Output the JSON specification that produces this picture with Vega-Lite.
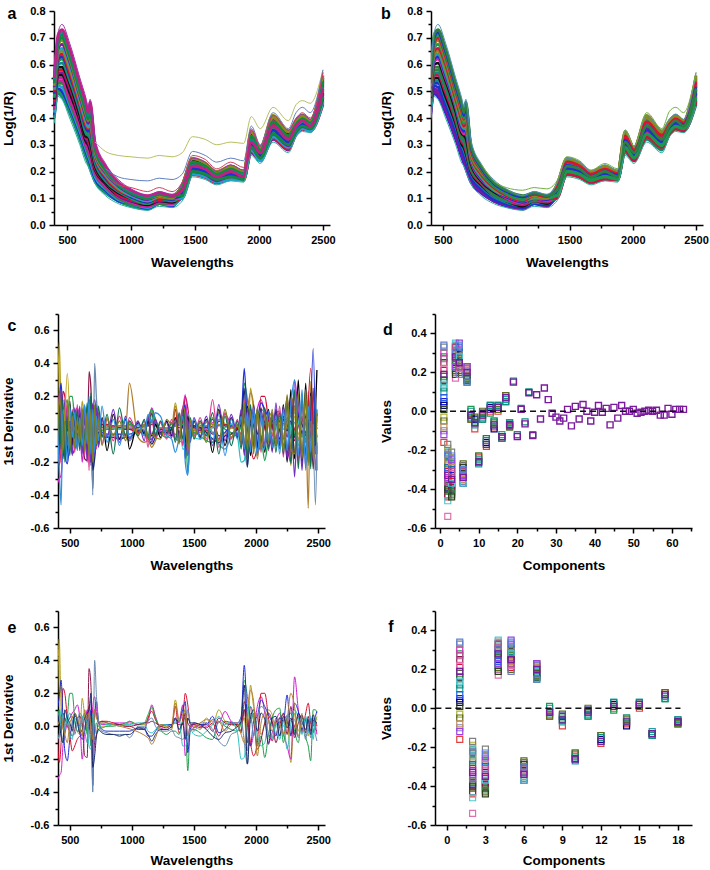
{"$schema":"https://vega.github.io/schema/vega-lite/v6.json","padding":{"left":0,"top":5,"right":1,"bottom":1},"spacing":38,"background":"white","resolve":{"scale":{"color":"independent"}},
"config":{"view":{"stroke":null},"axis":{"grid":false,"labelFont":"Liberation Sans","titleFont":"Liberation Sans","labelFontWeight":"bold","titleFontWeight":"bold","labelFontSize":11,"titleFontSize":13.5,"labelColor":"black","titleColor":"black","domainColor":"black","tickColor":"black","domainWidth":1.5,"tickWidth":1.5,"tickSize":5,"labelPadding":4,"labelFlush":false,"labelOverlap":false}},
"datasets":{
"refl":[
{"w":400,"a":0.40,"b":0.41,"c":0.43,"d":0.44,"e":0.45,"f":0.47,"g":0.48,"h":0.50,"i":0.51,"j":0.52,"k":0.54,"l":0.55,"m":0.56,"n":0.38,"A":0.405,"B":0.42,"C":0.435,"D":0.445,"E":0.46,"F":0.475,"G":0.49,"H":0.505,"I":0.515,"J":0.53,"K":0.545},
{"w":430,"a":0.49,"b":0.51,"c":0.53,"d":0.55,"e":0.57,"f":0.59,"g":0.61,"h":0.63,"i":0.65,"j":0.67,"k":0.69,"l":0.71,"m":0.72,"n":0.48,"A":0.50,"B":0.52,"C":0.54,"D":0.56,"E":0.58,"F":0.60,"G":0.62,"H":0.64,"I":0.66,"J":0.68,"K":0.70},
{"w":460,"a":0.48,"b":0.50,"c":0.53,"d":0.55,"e":0.57,"f":0.59,"g":0.62,"h":0.64,"i":0.66,"j":0.69,"k":0.71,"l":0.73,"m":0.75,"n":0.47,"A":0.49,"B":0.515,"C":0.54,"D":0.56,"E":0.58,"F":0.605,"G":0.63,"H":0.65,"I":0.675,"J":0.70,"K":0.72},
{"w":520,"a":0.42,"b":0.44,"c":0.46,"d":0.48,"e":0.51,"f":0.53,"g":0.55,"h":0.57,"i":0.60,"j":0.62,"k":0.64,"l":0.66,"m":0.68,"n":0.40,"A":0.43,"B":0.45,"C":0.47,"D":0.495,"E":0.52,"F":0.54,"G":0.56,"H":0.585,"I":0.61,"J":0.63,"K":0.65},
{"w":600,"a":0.32,"b":0.34,"c":0.36,"d":0.38,"e":0.40,"f":0.41,"g":0.44,"h":0.45,"i":0.47,"j":0.49,"k":0.51,"l":0.53,"m":0.55,"n":0.30,"A":0.33,"B":0.35,"C":0.37,"D":0.39,"E":0.405,"F":0.425,"G":0.445,"H":0.46,"I":0.48,"J":0.50,"K":0.52},
{"w":650,"a":0.25,"b":0.27,"c":0.29,"d":0.30,"e":0.32,"f":0.33,"g":0.35,"h":0.37,"i":0.39,"j":0.41,"k":0.43,"l":0.45,"m":0.47,"n":0.23,"A":0.26,"B":0.28,"C":0.295,"D":0.31,"E":0.325,"F":0.34,"G":0.36,"H":0.38,"I":0.40,"J":0.42,"K":0.44},
{"w":665,"a":0.23,"b":0.25,"c":0.27,"d":0.29,"e":0.31,"f":0.33,"g":0.34,"h":0.36,"i":0.37,"j":0.39,"k":0.40,"l":0.42,"m":0.44,"n":0.22,"A":0.24,"B":0.26,"C":0.28,"D":0.30,"E":0.32,"F":0.335,"G":0.35,"H":0.365,"I":0.38,"J":0.395,"K":0.41},
{"w":680,"a":0.21,"b":0.23,"c":0.25,"d":0.27,"e":0.29,"f":0.31,"g":0.34,"h":0.36,"i":0.39,"j":0.41,"k":0.44,"l":0.46,"m":0.47,"n":0.20,"A":0.22,"B":0.24,"C":0.26,"D":0.28,"E":0.30,"F":0.325,"G":0.35,"H":0.375,"I":0.40,"J":0.425,"K":0.45},
{"w":720,"a":0.16,"b":0.17,"c":0.19,"d":0.20,"e":0.21,"f":0.22,"g":0.24,"h":0.25,"i":0.26,"j":0.27,"k":0.29,"l":0.30,"m":0.32,"n":0.155,"o":0.31,"A":0.165,"B":0.18,"C":0.195,"D":0.205,"E":0.215,"F":0.23,"G":0.245,"H":0.255,"I":0.265,"J":0.28,"K":0.295},
{"w":800,"a":0.12,"b":0.13,"c":0.14,"d":0.15,"e":0.16,"f":0.16,"g":0.17,"h":0.18,"i":0.19,"j":0.20,"k":0.21,"l":0.22,"m":0.23,"n":0.11,"o":0.275,"p":0.21,"q":0.19,"r":0.23,"A":0.125,"B":0.135,"C":0.145,"D":0.155,"E":0.16,"F":0.165,"G":0.175,"H":0.185,"I":0.195,"J":0.205,"K":0.215},
{"w":900,"a":0.09,"b":0.09,"c":0.10,"d":0.11,"e":0.11,"f":0.12,"g":0.13,"h":0.13,"i":0.14,"j":0.15,"k":0.15,"l":0.16,"m":0.17,"n":0.08,"o":0.26,"p":0.18,"q":0.15,"r":0.165,"A":0.09,"B":0.095,"C":0.105,"D":0.11,"E":0.115,"F":0.125,"G":0.13,"H":0.135,"I":0.145,"J":0.15,"K":0.155},
{"w":1000,"a":0.07,"b":0.08,"c":0.08,"d":0.09,"e":0.09,"f":0.10,"g":0.10,"h":0.11,"i":0.11,"j":0.12,"k":0.12,"l":0.13,"m":0.135,"n":0.065,"o":0.255,"p":0.17,"q":0.14,"r":0.14,"A":0.075,"B":0.08,"C":0.085,"D":0.09,"E":0.095,"F":0.10,"G":0.105,"H":0.11,"I":0.115,"J":0.12,"K":0.125},
{"w":1130,"a":0.06,"b":0.06,"c":0.07,"d":0.07,"e":0.08,"f":0.08,"g":0.08,"h":0.09,"i":0.09,"j":0.10,"k":0.10,"l":0.11,"m":0.11,"n":0.055,"o":0.25,"p":0.165,"q":0.125,"r":0.13,"A":0.06,"B":0.065,"C":0.07,"D":0.075,"E":0.08,"F":0.08,"G":0.085,"H":0.09,"I":0.095,"J":0.10,"K":0.105},
{"w":1220,"a":0.08,"b":0.08,"c":0.08,"d":0.09,"e":0.09,"f":0.10,"g":0.10,"h":0.10,"i":0.11,"j":0.11,"k":0.12,"l":0.12,"m":0.125,"n":0.07,"o":0.26,"p":0.175,"q":0.14,"r":0.14,"A":0.08,"B":0.08,"C":0.085,"D":0.09,"E":0.095,"F":0.10,"G":0.10,"H":0.105,"I":0.11,"J":0.115,"K":0.12},
{"w":1320,"a":0.07,"b":0.07,"c":0.08,"d":0.08,"e":0.09,"f":0.09,"g":0.09,"h":0.10,"i":0.10,"j":0.10,"k":0.11,"l":0.11,"m":0.115,"n":0.065,"o":0.255,"p":0.17,"q":0.125,"r":0.135,"A":0.07,"B":0.075,"C":0.08,"D":0.085,"E":0.09,"F":0.09,"G":0.095,"H":0.10,"I":0.10,"J":0.105,"K":0.11},
{"w":1400,"a":0.12,"b":0.14,"c":0.11,"d":0.13,"e":0.10,"f":0.15,"g":0.12,"h":0.14,"i":0.10,"j":0.15,"k":0.11,"l":0.13,"m":0.155,"n":0.09,"o":0.27,"p":0.19,"q":0.16,"r":0.165,"A":0.125,"B":0.107,"C":0.143,"D":0.116,"E":0.103,"F":0.134,"G":0.12,"H":0.148,"I":0.11,"J":0.138,"K":0.13},
{"w":1480,"a":0.21,"b":0.23,"c":0.20,"d":0.22,"e":0.19,"f":0.24,"g":0.21,"h":0.23,"i":0.19,"j":0.25,"k":0.20,"l":0.22,"m":0.25,"n":0.18,"o":0.33,"p":0.275,"q":0.26,"r":0.255,"A":0.218,"B":0.194,"C":0.241,"D":0.206,"E":0.188,"F":0.229,"G":0.212,"H":0.247,"I":0.20,"J":0.235,"K":0.223},
{"w":1580,"a":0.20,"b":0.22,"c":0.18,"d":0.21,"e":0.18,"f":0.23,"g":0.20,"h":0.22,"i":0.18,"j":0.23,"k":0.19,"l":0.21,"m":0.235,"n":0.17,"o":0.32,"p":0.26,"q":0.245,"r":0.24,"A":0.205,"B":0.183,"C":0.227,"D":0.194,"E":0.178,"F":0.216,"G":0.20,"H":0.232,"I":0.189,"J":0.221,"K":0.21},
{"w":1670,"a":0.17,"b":0.19,"c":0.16,"d":0.18,"e":0.16,"f":0.19,"g":0.17,"h":0.19,"i":0.16,"j":0.20,"k":0.17,"l":0.18,"m":0.20,"n":0.15,"o":0.30,"p":0.235,"q":0.21,"r":0.205,"A":0.178,"B":0.161,"C":0.194,"D":0.169,"E":0.157,"F":0.186,"G":0.173,"H":0.198,"I":0.165,"J":0.19,"K":0.182},
{"w":1780,"a":0.19,"b":0.21,"c":0.18,"d":0.20,"e":0.17,"f":0.22,"g":0.19,"h":0.21,"i":0.17,"j":0.22,"k":0.18,"l":0.20,"m":0.225,"n":0.165,"o":0.31,"p":0.25,"q":0.235,"r":0.23,"A":0.195,"B":0.177,"C":0.213,"D":0.186,"E":0.173,"F":0.204,"G":0.19,"H":0.218,"I":0.182,"J":0.209,"K":0.20},
{"w":1880,"a":0.18,"b":0.19,"c":0.17,"d":0.19,"e":0.17,"f":0.20,"g":0.18,"h":0.19,"i":0.17,"j":0.20,"k":0.17,"l":0.18,"m":0.205,"n":0.16,"o":0.305,"p":0.24,"q":0.215,"r":0.21,"A":0.183,"B":0.17,"C":0.195,"D":0.176,"E":0.167,"F":0.189,"G":0.179,"H":0.198,"I":0.173,"J":0.192,"K":0.186},
{"w":1940,"a":0.31,"b":0.34,"c":0.28,"d":0.32,"e":0.27,"f":0.34,"g":0.30,"h":0.33,"i":0.28,"j":0.35,"k":0.29,"l":0.31,"m":0.355,"n":0.26,"o":0.405,"p":0.37,"q":0.36,"r":0.355,"A":0.31,"B":0.281,"C":0.339,"D":0.296,"E":0.274,"F":0.324,"G":0.303,"H":0.346,"I":0.288,"J":0.332,"K":0.317},
{"w":2010,"a":0.26,"b":0.28,"c":0.25,"d":0.27,"e":0.24,"f":0.29,"g":0.26,"h":0.28,"i":0.24,"j":0.29,"k":0.25,"l":0.27,"m":0.295,"n":0.23,"o":0.36,"p":0.30,"q":0.295,"r":0.295,"A":0.265,"B":0.247,"C":0.283,"D":0.256,"E":0.243,"F":0.274,"G":0.26,"H":0.288,"I":0.252,"J":0.279,"K":0.27},
{"w":2110,"a":0.36,"b":0.39,"c":0.34,"d":0.37,"e":0.32,"f":0.40,"g":0.35,"h":0.38,"i":0.33,"j":0.41,"k":0.34,"l":0.37,"m":0.41,"n":0.31,"o":0.44,"p":0.42,"q":0.41,"r":0.42,"A":0.363,"B":0.332,"C":0.393,"D":0.347,"E":0.324,"F":0.378,"G":0.355,"H":0.401,"I":0.34,"J":0.385,"K":0.37},
{"w":2230,"a":0.31,"b":0.34,"c":0.29,"d":0.32,"e":0.28,"f":0.34,"g":0.31,"h":0.33,"i":0.29,"j":0.35,"k":0.30,"l":0.32,"m":0.355,"n":0.27,"o":0.39,"p":0.36,"q":0.355,"r":0.36,"A":0.315,"B":0.29,"C":0.34,"D":0.302,"E":0.284,"F":0.328,"G":0.309,"H":0.347,"I":0.296,"J":0.334,"K":0.321},
{"w":2290,"a":0.36,"b":0.38,"c":0.34,"d":0.37,"e":0.34,"f":0.39,"g":0.35,"h":0.38,"i":0.34,"j":0.39,"k":0.35,"l":0.37,"m":0.395,"n":0.33,"o":0.45,"p":0.42,"q":0.40,"r":0.425,"A":0.363,"B":0.343,"C":0.382,"D":0.353,"E":0.338,"F":0.372,"G":0.358,"H":0.387,"I":0.348,"J":0.377,"K":0.367},
{"w":2340,"a":0.38,"b":0.40,"c":0.37,"d":0.39,"e":0.36,"f":0.41,"g":0.38,"h":0.40,"i":0.36,"j":0.41,"k":0.37,"l":0.39,"m":0.415,"n":0.35,"o":0.465,"p":0.44,"q":0.42,"r":0.44,"A":0.383,"B":0.363,"C":0.402,"D":0.373,"E":0.358,"F":0.392,"G":0.378,"H":0.407,"I":0.368,"J":0.397,"K":0.387},
{"w":2400,"a":0.37,"b":0.38,"c":0.36,"d":0.38,"e":0.35,"f":0.39,"g":0.36,"h":0.38,"i":0.35,"j":0.39,"k":0.36,"l":0.37,"m":0.395,"n":0.345,"o":0.455,"p":0.42,"q":0.40,"r":0.42,"A":0.37,"B":0.356,"C":0.384,"D":0.363,"E":0.352,"F":0.377,"G":0.366,"H":0.388,"I":0.359,"J":0.381,"K":0.374},
{"w":2500,"a":0.50,"b":0.54,"c":0.47,"d":0.52,"e":0.45,"f":0.55,"g":0.49,"h":0.53,"i":0.46,"j":0.56,"k":0.48,"l":0.51,"m":0.57,"n":0.445,"o":0.58,"p":0.58,"q":0.57,"r":0.57,"A":0.505,"B":0.465,"C":0.545,"D":0.485,"E":0.456,"F":0.525,"G":0.495,"H":0.555,"I":0.475,"J":0.535,"K":0.515}
],
"spikes":[
{"s":"a","w":460,"v":0.05},{"s":"a","w":480,"v":0.34},{"s":"a","w":500,"v":0.05},
{"s":"b","w":1410,"v":0.12},{"s":"b","w":1430,"v":0.21},{"s":"b","w":1450,"v":-0.06},
{"s":"c","w":2420,"v":0.14},{"s":"c","w":2440,"v":0.37},{"s":"c","w":2460,"v":-0.04},
{"s":"e","w":2440,"v":0.05},{"s":"e","w":2460,"v":0.49},{"s":"e","w":2478,"v":-0.10},
{"s":"g","w":2460,"v":0.03},{"s":"g","w":2478,"v":-0.46},{"s":"g","w":2490,"v":-0.09}
],
"deriv":[
{"w":400,"a":0.10,"b":-0.33,"c":-0.05,"d":0.02,"e":0.10,"f":-0.10,"g":0.05,"h":-0.08,"i":0.08,"j":0.00,"k":0.20,"l":-0.15,"m":0.12,"n":-0.20,"o":0.05,"p":-0.10},
{"w":415,"a":0.53,"b":-0.30,"c":-0.22,"d":0.10,"e":0.18,"f":-0.05,"g":0.08,"h":-0.05,"i":0.02,"j":0.03,"k":-0.10,"l":0.22,"m":-0.18,"n":0.15,"o":-0.25,"p":0.20},
{"w":430,"a":0.10,"b":-0.28,"c":-0.10,"d":-0.05,"e":0.28,"f":0.04,"g":-0.03,"h":0.10,"i":-0.06,"j":0.06,"k":0.15,"l":-0.20,"m":0.24,"n":-0.12,"o":-0.46,"p":0.12},
{"w":445,"a":-0.02,"b":-0.12,"c":0.23,"d":-0.10,"e":0.05,"f":0.08,"g":-0.08,"h":0.04,"i":-0.10,"j":0.00,"k":-0.18,"l":0.10,"m":-0.05,"n":0.18,"o":0.12,"p":-0.15},
{"w":460,"a":0.05,"b":-0.05,"c":0.20,"d":-0.03,"e":-0.15,"f":0.05,"g":-0.02,"h":-0.02,"i":0.10,"j":-0.05,"k":0.12,"l":-0.12,"m":0.18,"n":-0.20,"o":0.06,"p":0.10},
{"w":480,"a":0.02,"b":0.02,"c":0.05,"d":0.06,"e":-0.21,"f":0.00,"g":0.04,"h":0.08,"i":0.05,"j":-0.10,"k":-0.15,"l":0.15,"m":-0.10,"n":0.08,"o":-0.20,"p":0.18},
{"w":500,"a":0.05,"b":0.05,"c":-0.05,"d":0.20,"e":-0.08,"f":-0.03,"g":0.08,"h":-0.04,"i":0.02,"j":0.02,"k":0.17,"l":-0.08,"m":0.10,"n":-0.16,"o":0.14,"p":-0.12},
{"w":520,"a":0.06,"b":0.08,"c":-0.15,"d":0.20,"e":0.02,"f":-0.06,"g":0.02,"h":-0.08,"i":-0.03,"j":0.05,"k":-0.10,"l":0.12,"m":-0.16,"n":0.11,"o":-0.05,"p":0.08},
{"w":540,"a":0.03,"b":0.10,"c":-0.12,"d":0.04,"e":0.06,"f":-0.02,"g":-0.05,"h":0.05,"i":0.08,"j":0.08,"k":0.09,"l":-0.14,"m":0.13,"n":-0.06,"o":0.10,"p":-0.11},
{"w":560,"a":-0.03,"b":0.13,"c":-0.08,"d":-0.03,"e":0.05,"f":0.05,"g":0.02,"h":0.02,"i":0.03,"j":0.05,"k":-0.12,"l":0.15,"m":-0.09,"n":0.12,"o":-0.13,"p":0.06},
{"w":580,"a":-0.05,"b":0.05,"c":-0.06,"d":-0.03,"e":-0.04,"f":0.06,"g":0.08,"h":-0.03,"i":-0.04,"j":0.00,"k":0.10,"l":-0.10,"m":0.14,"n":-0.13,"o":0.07,"p":-0.08},
{"w":600,"a":0.17,"b":-0.20,"c":-0.05,"d":0.04,"e":-0.08,"f":0.02,"g":0.05,"h":0.06,"i":-0.02,"j":-0.06,"k":-0.08,"l":0.12,"m":-0.15,"n":0.09,"o":-0.10,"p":0.13},
{"w":620,"a":0.06,"b":-0.03,"c":-0.03,"d":0.08,"e":-0.02,"f":-0.18,"g":-0.03,"h":0.05,"i":0.05,"j":0.10,"k":0.14,"l":-0.16,"m":0.11,"n":-0.07,"o":0.15,"p":-0.13},
{"w":640,"a":-0.02,"b":0.10,"c":0.05,"d":-0.05,"e":0.06,"f":-0.19,"g":-0.10,"h":0.02,"i":0.08,"j":0.04,"k":-0.15,"l":0.12,"m":-0.20,"n":0.16,"o":-0.09,"p":0.10},
{"w":655,"a":0.05,"b":0.05,"c":0.12,"d":0.02,"e":-0.02,"f":0.35,"g":0.06,"h":-0.12,"i":0.10,"j":0.08,"k":0.18,"l":-0.25,"m":0.14,"n":-0.12,"o":0.20,"p":-0.16},
{"w":670,"a":-0.05,"b":-0.10,"c":0.02,"d":-0.12,"e":0.10,"f":0.25,"g":0.16,"h":-0.14,"i":0.20,"j":0.01,"k":-0.20,"l":0.16,"m":-0.22,"n":0.22,"o":-0.15,"p":0.12},
{"w":685,"a":0.10,"b":0.12,"c":-0.18,"d":0.05,"e":-0.36,"f":-0.10,"g":-0.40,"h":0.08,"i":-0.25,"j":-0.08,"k":0.15,"l":-0.14,"m":0.16,"n":-0.18,"o":0.12,"p":-0.20},
{"w":700,"a":-0.08,"b":0.18,"c":-0.10,"d":-0.05,"e":0.05,"f":0.10,"g":0.40,"h":0.02,"i":-0.18,"j":0.10,"k":-0.12,"l":0.14,"m":-0.16,"n":0.13,"o":-0.14,"p":0.15},
{"w":715,"a":-0.05,"b":0.10,"c":-0.05,"d":0.02,"e":0.15,"f":0.07,"g":0.18,"h":-0.04,"i":-0.06,"j":0.05,"k":0.12,"l":-0.12,"m":0.13,"n":-0.10,"o":0.08,"p":-0.09},
{"w":730,"a":-0.02,"b":0.03,"c":0.02,"d":0.00,"e":0.04,"f":0.02,"g":0.04,"h":-0.03,"i":-0.02,"j":0.03,"k":-0.10,"l":0.10,"m":-0.11,"n":0.14,"o":-0.07,"p":0.06},
{"w":760,"a":0.00,"b":0.01,"c":0.03,"d":-0.01,"e":-0.02,"f":0.03,"g":-0.03,"h":0.02,"i":-0.04,"j":0.02,"k":0.07,"l":-0.09,"m":0.06,"n":-0.05,"o":0.14,"p":-0.10},
{"w":800,"a":0.00,"b":0.01,"c":0.03,"d":0.00,"e":-0.03,"f":0.02,"g":-0.04,"h":0.01,"i":-0.05,"j":0.02,"k":-0.13,"l":0.06,"m":-0.05,"n":0.09,"o":-0.08,"p":0.07},
{"w":850,"a":0.01,"b":0.02,"c":0.02,"d":0.00,"e":-0.03,"f":0.01,"g":-0.05,"h":0.01,"i":-0.05,"j":0.01,"k":0.09,"l":-0.07,"m":0.12,"n":-0.15,"o":0.06,"p":-0.04},
{"w":900,"a":0.01,"b":0.02,"c":0.01,"d":0.01,"e":-0.03,"f":0.01,"g":-0.05,"h":0.00,"i":-0.06,"j":0.02,"k":-0.06,"l":0.08,"m":-0.08,"n":0.13,"o":-0.10,"p":0.05},
{"w":950,"a":0.01,"b":0.02,"c":0.00,"d":0.02,"e":-0.03,"f":0.00,"g":-0.05,"h":0.01,"i":-0.05,"j":0.02,"k":0.06,"l":-0.05,"m":0.08,"n":-0.04,"o":0.07,"p":-0.07},
{"w":980,"a":0.03,"b":0.02,"c":0.00,"d":0.03,"e":-0.03,"f":0.00,"g":-0.07,"h":0.01,"i":-0.05,"j":0.28,"k":-0.12,"l":0.07,"m":-0.06,"n":0.05,"o":-0.05,"p":0.04},
{"w":1050,"a":0.01,"b":0.01,"c":-0.02,"d":0.01,"e":-0.01,"f":0.01,"g":0.00,"h":0.02,"i":-0.01,"j":-0.05,"k":0.04,"l":-0.03,"m":0.05,"n":-0.04,"o":0.03,"p":-0.03},
{"w":1100,"a":0.01,"b":0.02,"c":-0.02,"d":0.02,"e":-0.01,"f":0.02,"g":0.00,"h":0.02,"i":-0.02,"j":-0.08,"k":-0.03,"l":0.05,"m":-0.07,"n":0.06,"o":-0.04,"p":0.03},
{"w":1130,"a":0.05,"b":0.03,"c":0.05,"d":0.07,"e":-0.06,"f":0.02,"g":0.03,"h":-0.03,"i":-0.05,"j":-0.07,"k":0.05,"l":-0.11,"m":0.08,"n":-0.05,"o":0.09,"p":-0.06},
{"w":1160,"a":0.11,"b":0.13,"c":0.09,"d":0.12,"e":-0.06,"f":0.03,"g":0.05,"h":-0.04,"i":-0.09,"j":-0.11,"k":-0.04,"l":0.06,"m":-0.08,"n":0.10,"o":0.04,"p":-0.03},
{"w":1190,"a":0.04,"b":0.06,"c":0.04,"d":0.05,"e":-0.03,"f":0.02,"g":0.00,"h":-0.02,"i":-0.05,"j":-0.07,"k":0.03,"l":-0.05,"m":0.06,"n":-0.04,"o":0.10,"p":-0.05},
{"w":1230,"a":0.00,"b":-0.01,"c":0.00,"d":-0.02,"e":0.01,"f":0.00,"g":-0.03,"h":0.01,"i":-0.02,"j":0.01,"k":-0.05,"l":0.04,"m":-0.03,"n":0.05,"o":0.08,"p":-0.06},
{"w":1280,"a":0.00,"b":-0.02,"c":0.01,"d":-0.05,"e":0.01,"f":-0.01,"g":-0.03,"h":0.01,"i":-0.02,"j":0.00,"k":0.05,"l":-0.06,"m":0.04,"n":-0.03,"o":-0.04,"p":0.06},
{"w":1320,"a":0.01,"b":0.00,"c":-0.01,"d":-0.03,"e":0.01,"f":0.01,"g":-0.02,"h":0.00,"i":0.00,"j":-0.02,"k":-0.04,"l":0.06,"m":-0.05,"n":0.04,"o":-0.06,"p":0.03},
{"w":1350,"a":0.16,"b":0.05,"c":0.12,"d":-0.03,"e":0.04,"f":0.02,"g":-0.06,"h":0.03,"i":0.05,"j":0.14,"k":0.07,"l":-0.06,"m":0.06,"n":-0.08,"o":-0.14,"p":0.05},
{"w":1380,"a":0.04,"b":0.02,"c":-0.04,"d":-0.05,"e":0.03,"f":0.01,"g":-0.07,"h":0.05,"i":-0.02,"j":0.03,"k":-0.08,"l":0.09,"m":-0.07,"n":0.10,"o":-0.05,"p":-0.09},
{"w":1410,"a":0.12,"b":0.13,"c":0.05,"d":0.03,"e":0.10,"f":0.01,"g":-0.08,"h":-0.12,"i":0.02,"j":0.07,"k":0.09,"l":-0.10,"m":0.11,"n":-0.06,"o":0.08,"p":0.14},
{"w":1430,"a":0.06,"b":-0.18,"c":0.20,"d":0.05,"e":0.15,"f":0.08,"g":-0.05,"h":-0.12,"i":-0.08,"j":0.10,"k":-0.14,"l":0.12,"m":-0.17,"n":0.13,"o":-0.20,"p":0.09},
{"w":1450,"a":-0.06,"b":-0.10,"c":0.13,"d":-0.27,"e":-0.16,"f":0.02,"g":0.10,"h":-0.08,"i":0.05,"j":-0.05,"k":0.08,"l":-0.15,"m":0.06,"n":-0.10,"o":-0.28,"p":-0.13},
{"w":1470,"a":0.00,"b":0.01,"c":0.01,"d":-0.02,"e":-0.02,"f":0.00,"g":0.02,"h":-0.02,"i":0.02,"j":-0.03,"k":-0.06,"l":0.05,"m":-0.08,"n":0.07,"o":-0.04,"p":0.06},
{"w":1500,"a":0.00,"b":-0.01,"c":0.01,"d":-0.02,"e":0.02,"f":0.01,"g":-0.03,"h":-0.05,"i":0.02,"j":-0.01,"k":0.05,"l":-0.04,"m":0.07,"n":-0.06,"o":0.06,"p":-0.05},
{"w":1550,"a":-0.02,"b":0.01,"c":0.00,"d":-0.04,"e":0.01,"f":-0.01,"g":0.02,"h":-0.06,"i":0.01,"j":0.02,"k":-0.05,"l":0.07,"m":-0.04,"n":0.05,"o":-0.06,"p":0.04},
{"w":1600,"a":0.05,"b":0.00,"c":-0.01,"d":-0.07,"e":0.01,"f":0.02,"g":0.02,"h":-0.03,"i":-0.02,"j":0.04,"k":0.06,"l":-0.06,"m":0.08,"n":-0.04,"o":0.05,"p":-0.08},
{"w":1650,"a":0.01,"b":0.04,"c":0.02,"d":-0.08,"e":0.06,"f":-0.03,"g":-0.02,"h":0.01,"i":-0.06,"j":0.03,"k":-0.14,"l":0.18,"m":-0.10,"n":0.10,"o":-0.08,"p":0.07},
{"w":1700,"a":0.10,"b":0.02,"c":-0.06,"d":0.03,"e":-0.04,"f":0.05,"g":-0.09,"h":0.06,"i":-0.08,"j":0.03,"k":0.12,"l":-0.11,"m":0.15,"n":-0.15,"o":0.09,"p":-0.07},
{"w":1750,"a":0.03,"b":0.09,"c":0.03,"d":0.00,"e":-0.02,"f":0.02,"g":-0.12,"h":0.01,"i":-0.04,"j":-0.03,"k":-0.10,"l":0.10,"m":-0.07,"n":0.08,"o":-0.16,"p":0.12},
{"w":1800,"a":0.01,"b":0.03,"c":0.02,"d":-0.02,"e":0.02,"f":0.01,"g":-0.05,"h":0.03,"i":-0.03,"j":0.01,"k":0.07,"l":-0.06,"m":0.09,"n":-0.10,"o":0.06,"p":-0.05},
{"w":1850,"a":0.00,"b":0.01,"c":0.00,"d":-0.03,"e":0.02,"f":0.01,"g":-0.03,"h":-0.04,"i":0.00,"j":0.02,"k":-0.05,"l":0.06,"m":-0.04,"n":0.05,"o":-0.06,"p":0.03},
{"w":1880,"a":0.01,"b":0.02,"c":-0.04,"d":0.03,"e":0.06,"f":-0.03,"g":0.05,"h":-0.20,"i":0.03,"j":-0.05,"k":0.10,"l":-0.09,"m":0.12,"n":-0.12,"o":0.08,"p":-0.07},
{"w":1905,"a":0.05,"b":0.10,"c":0.15,"d":0.28,"e":0.37,"f":0.10,"g":-0.10,"h":-0.19,"i":0.25,"j":-0.10,"k":-0.14,"l":0.18,"m":-0.16,"n":0.14,"o":-0.12,"p":0.16},
{"w":1930,"a":-0.15,"b":0.05,"c":0.05,"d":0.18,"e":0.02,"f":-0.10,"g":-0.23,"h":0.05,"i":-0.23,"j":0.10,"k":0.14,"l":-0.17,"m":0.13,"n":-0.18,"o":0.10,"p":-0.12},
{"w":1955,"a":0.25,"b":-0.12,"c":-0.10,"d":0.02,"e":-0.12,"f":0.12,"g":0.08,"h":0.12,"i":0.05,"j":0.22,"k":-0.16,"l":0.13,"m":-0.12,"n":0.15,"o":-0.14,"p":0.11},
{"w":1980,"a":0.12,"b":-0.05,"c":-0.18,"d":0.08,"e":0.03,"f":0.05,"g":-0.06,"h":0.05,"i":0.10,"j":0.15,"k":0.14,"l":-0.12,"m":0.15,"n":-0.10,"o":0.13,"p":-0.15},
{"w":2010,"a":0.05,"b":0.12,"c":-0.10,"d":-0.12,"e":0.06,"f":-0.14,"g":0.05,"h":-0.05,"i":-0.03,"j":-0.18,"k":-0.11,"l":0.10,"m":-0.15,"n":0.12,"o":-0.16,"p":0.13},
{"w":2040,"a":-0.05,"b":0.18,"c":0.20,"d":-0.06,"e":0.16,"f":-0.08,"g":0.12,"h":-0.12,"i":0.08,"j":0.02,"k":0.13,"l":-0.14,"m":0.12,"n":-0.08,"o":0.10,"p":-0.12},
{"w":2070,"a":0.02,"b":0.08,"c":0.20,"d":-0.19,"e":0.12,"f":0.02,"g":0.10,"h":-0.10,"i":0.04,"j":0.08,"k":-0.14,"l":0.11,"m":-0.09,"n":0.13,"o":-0.12,"p":0.09},
{"w":2100,"a":0.10,"b":-0.10,"c":0.05,"d":-0.05,"e":0.07,"f":0.08,"g":-0.05,"h":0.04,"i":-0.11,"j":0.03,"k":0.12,"l":-0.13,"m":0.10,"n":-0.12,"o":0.11,"p":-0.08},
{"w":2130,"a":0.07,"b":-0.04,"c":-0.09,"d":0.05,"e":0.02,"f":0.03,"g":-0.07,"h":-0.08,"i":0.05,"j":-0.03,"k":-0.13,"l":0.10,"m":-0.14,"n":0.09,"o":-0.11,"p":0.12},
{"w":2160,"a":-0.05,"b":0.03,"c":0.02,"d":0.10,"e":-0.06,"f":-0.10,"g":0.05,"h":0.02,"i":0.06,"j":0.04,"k":0.12,"l":-0.09,"m":0.16,"n":-0.14,"o":0.08,"p":-0.10},
{"w":2190,"a":0.03,"b":0.08,"c":0.05,"d":0.11,"e":0.05,"f":0.00,"g":0.02,"h":-0.08,"i":-0.06,"j":0.02,"k":-0.10,"l":0.14,"m":-0.12,"n":0.10,"o":-0.15,"p":0.07},
{"w":2220,"a":0.00,"b":-0.05,"c":0.07,"d":-0.10,"e":0.03,"f":0.08,"g":-0.05,"h":0.03,"i":0.06,"j":-0.05,"k":0.15,"l":-0.17,"m":0.14,"n":-0.15,"o":0.12,"p":-0.13},
{"w":2250,"a":0.05,"b":-0.12,"c":0.03,"d":0.05,"e":0.19,"f":-0.05,"g":0.07,"h":-0.14,"i":-0.01,"j":0.04,"k":-0.20,"l":0.20,"m":-0.18,"n":0.16,"o":-0.13,"p":0.21},
{"w":2280,"a":-0.22,"b":-0.20,"c":-0.05,"d":0.08,"e":-0.06,"f":0.12,"g":0.03,"h":0.02,"i":0.05,"j":0.20,"k":0.24,"l":-0.16,"m":0.18,"n":-0.21,"o":0.15,"p":-0.12},
{"w":2310,"a":0.08,"b":0.30,"c":0.00,"d":-0.03,"e":0.14,"f":-0.07,"g":0.04,"h":0.10,"i":-0.05,"j":0.12,"k":-0.18,"l":0.22,"m":-0.29,"n":0.24,"o":0.30,"p":-0.15},
{"w":2340,"a":-0.03,"b":0.10,"c":0.06,"d":-0.10,"e":0.09,"f":0.02,"g":-0.07,"h":0.05,"i":0.08,"j":-0.06,"k":0.30,"l":-0.20,"m":0.18,"n":-0.24,"o":-0.16,"p":0.22},
{"w":2370,"a":0.05,"b":-0.04,"c":-0.03,"d":0.06,"e":-0.02,"f":0.07,"g":0.02,"h":-0.05,"i":0.03,"j":0.08,"k":-0.22,"l":0.16,"m":-0.25,"n":0.20,"o":0.24,"p":-0.18},
{"w":2400,"a":0.02,"b":0.05,"c":0.08,"d":-0.07,"e":0.04,"f":-0.04,"g":-0.08,"h":0.06,"i":-0.02,"j":0.05,"k":0.28,"l":-0.23,"m":0.20,"n":-0.16,"o":-0.25,"p":0.24},
{"w":2420,"a":-0.06,"b":0.00,"c":0.14,"d":-0.12,"e":-0.03,"f":0.06,"g":0.03,"h":-0.04,"i":0.04,"j":-0.48,"k":-0.20,"l":0.23,"m":-0.18,"n":0.15,"o":0.18,"p":-0.22},
{"w":2440,"a":0.05,"b":0.03,"c":0.02,"d":-0.21,"e":0.05,"f":-0.03,"g":-0.07,"h":0.06,"i":-0.05,"j":0.29,"k":0.22,"l":-0.19,"m":0.16,"n":-0.24,"o":-0.14,"p":0.20},
{"w":2460,"a":-0.03,"b":0.05,"c":-0.04,"d":0.10,"e":0.00,"f":0.04,"g":0.03,"h":-0.08,"i":0.07,"j":0.05,"k":-0.24,"l":0.18,"m":-0.20,"n":0.25,"o":0.12,"p":-0.18},
{"w":2478,"a":0.02,"b":0.01,"c":0.03,"d":0.10,"e":0.06,"f":-0.02,"g":-0.05,"h":0.05,"i":0.03,"j":0.00,"k":0.10,"l":-0.25,"m":0.16,"n":-0.15,"o":0.20,"p":-0.12},
{"w":2490,"a":0.06,"b":-0.05,"c":0.00,"d":0.08,"e":0.09,"f":-0.03,"g":-0.09,"h":0.04,"i":0.02,"j":-0.05,"k":0.36,"l":-0.10,"m":-0.25,"n":0.12,"o":-0.15,"p":0.10}
],
"scores":[
{"c":1,"a":0.16,"b":-0.16,"c2":0.28,"d":0.05,"e":0.10,"f":0.30,"g":-0.03,"h":0.03,"i":0.21,"j":0.25,"k":-0.05,"l":0.12,"m":-0.10,"n":0.22,"o":0.33,"p":0.07,"q":0.18,"r":-0.08,"s":0.14,"t":0.01,"u":-0.12,"v":0.27,"w":0.34,"x":0.19},
{"c":2,"a":-0.23,"b":-0.44,"c2":-0.41,"d":-0.35,"e":-0.21,"f":-0.32,"g":-0.19,"h":-0.39,"i":-0.31,"j":-0.43,"k":-0.38,"l":-0.26,"m":-0.37,"n":-0.54,"o":-0.17,"p":-0.29,"q":-0.27,"r":-0.25,"s":-0.46,"t":-0.40,"u":-0.34,"v":-0.36,"w":-0.22,"x":-0.33},
{"c":3,"a":-0.38,"b":-0.33,"c2":-0.41,"d":-0.30,"e":-0.35,"f":-0.32,"g":-0.24,"h":-0.40,"i":-0.36,"j":-0.39,"k":-0.43,"l":-0.27,"m":-0.34,"n":-0.29,"o":-0.21,"p":-0.28,"q":-0.42,"r":-0.26,"s":-0.37,"t":-0.44,"u":-0.25,"v":-0.31,"w":-0.23,"x":-0.35},
{"c":4,"a":0.33,"b":0.23,"c2":0.25,"d":0.22,"e":0.29,"f":0.31,"g":0.27,"h":0.30,"i":0.26,"j":0.28,"k":0.21,"l":0.20,"m":0.28,"n":0.17,"o":0.34,"p":0.24,"q":0.26,"r":0.32,"s":0.35,"t":0.19,"u":0.23,"v":0.33,"w":0.30,"x":0.28},
{"c":5,"a":0.29,"b":0.27,"c2":0.24,"d":0.22,"e":0.26,"f":0.25,"g":0.30,"h":0.28,"i":0.21,"j":0.23,"k":0.20,"l":0.26,"m":0.19,"n":0.22,"o":0.31,"p":0.33,"q":0.27,"r":0.24,"s":0.28,"t":0.25,"u":0.35,"v":0.23,"w":0.34,"x":0.25},
{"c":6,"a":-0.28,"b":-0.33,"c2":-0.36,"d":-0.30,"e":-0.35,"f":-0.34,"g":-0.29,"h":-0.37,"i":-0.31,"j":-0.32,"k":-0.27,"l":-0.33,"m":-0.36,"n":-0.34,"o":-0.28,"p":-0.30,"q":-0.32,"r":-0.35,"s":-0.37,"t":-0.29,"u":-0.33,"v":-0.31,"w":-0.30,"x":-0.34},
{"c":7,"a":0.22,"b":0.21,"c2":0.17,"d":0.18,"e":0.20,"f":0.19,"g":0.23,"h":0.16,"i":0.21,"j":0.19,"k":0.17,"l":0.15,"m":0.22,"n":0.18,"o":0.23,"p":0.20,"q":0.16,"r":0.21,"s":0.19,"t":0.18,"u":0.23,"v":0.20,"w":0.15,"x":0.20},
{"c":8,"b":-0.04,"c2":0.01,"e":-0.03,"h":-0.02,"k":-0.04,"l":0.00,"x":-0.02},
{"c":9,"b":-0.09,"c2":-0.05,"e":-0.07,"h":-0.04,"k":-0.03,"l":-0.06,"x":-0.06},
{"c":10,"b":-0.24,"c2":-0.23,"e":-0.27,"h":-0.26,"k":-0.23,"l":-0.25,"x":-0.26},
{"c":11,"b":-0.02,"c2":-0.04,"e":-0.03,"h":-0.01,"k":0.00,"l":-0.04,"x":-0.02},
{"c":12,"b":-0.18,"c2":-0.14,"e":-0.17,"h":-0.16,"k":-0.14,"l":-0.15,"x":-0.17},
{"c":13,"b":0.00,"c2":-0.01,"e":0.03,"h":0.02,"k":0.01,"l":0.03,"x":0.01},
{"c":14,"b":-0.08,"c2":-0.05,"e":-0.07,"h":-0.09,"k":-0.06,"l":-0.05,"x":-0.07},
{"c":15,"b":0.00,"c2":0.02,"e":0.03,"h":0.02,"k":0.01,"l":0.03,"x":0.02},
{"c":16,"b":-0.13,"c2":-0.14,"e":-0.12,"h":-0.13,"k":-0.13,"l":-0.14,"x":-0.13},
{"c":17,"b":0.08,"c2":0.05,"e":0.06,"h":0.07,"k":0.08,"l":0.05,"x":0.07},
{"c":18,"b":-0.07,"c2":-0.08,"e":-0.06,"h":-0.07,"k":-0.08,"l":-0.06,"x":-0.07}
],
"scoresMore":[
{"c":19,"l":0.155,"x":0.15},{"c":20,"l":-0.12,"x":-0.13},{"c":21,"l":0.015,"x":0.01},{"c":22,"l":-0.055,"x":-0.065},{"c":23,"l":0.10,"x":0.095},{"c":24,"l":-0.12,"x":-0.125},{"c":25,"x":0.085},{"c":26,"x":-0.04},{"c":27,"x":0.12},{"c":28,"x":0.06},{"c":29,"x":-0.01},{"c":30,"x":-0.03},{"c":31,"x":-0.05},{"c":32,"x":-0.035},{"c":33,"x":0.01},{"c":34,"x":-0.075},{"c":35,"x":0.025},{"c":36,"x":-0.04},{"c":37,"x":0.035},{"c":38,"x":0.00},{"c":39,"x":-0.05},{"c":40,"x":-0.005},{"c":41,"x":0.03},{"c":42,"x":-0.005},{"c":43,"x":0.015},{"c":44,"x":-0.07},{"c":45,"x":0.02},{"c":46,"x":-0.035},{"c":47,"x":0.03},{"c":48,"x":0.00},{"c":49,"x":0.00},{"c":50,"x":0.01},{"c":51,"x":-0.01},{"c":52,"x":-0.005},{"c":53,"x":0.00},{"c":54,"x":0.005},{"c":55,"x":0.00},{"c":56,"x":0.005},{"c":57,"x":-0.02},{"c":58,"x":-0.02},{"c":59,"x":0.015},{"c":60,"x":-0.015},{"c":61,"x":0.01},{"c":62,"x":0.01},{"c":63,"x":0.01}
]},
"vconcat":[
{"spacing":44,"resolve":{"scale":{"color":"independent"}},"vconcat":[
{"spacing":0,"resolve":{"scale":{"color":"independent"}},"hconcat":[
{"width":1,"height":1,"data":{"values":[]},"mark":"point"},
{"spacing":43,"resolve":{"scale":{"color":"independent"}},"hconcat":[
{"width":276,"height":214,"resolve":{"axis":{"x":"independent","y":"independent"}},"layer":[
{"data":{"name":"refl"},"transform":[{"fold":["a","A","b","B","c","C","d","D","e","E","f","F","g","G","h","H","i","I","j","J","k","K","l"],"as":["s","v"]}],"mark":{"type":"line","strokeWidth":2.8,"interpolate":"monotone"},"encoding":{"x":{"field":"w","type":"quantitative","scale":{"domain":[398,2555],"nice":false,"zero":false},"axis":{"values":[500,1000,1500,2000,2500],"format":"d","title":"Wavelengths","titlePadding":10}},"y":{"field":"v","type":"quantitative","scale":{"domain":[0,0.8],"nice":false},"axis":{"values":[0,0.1,0.2,0.3,0.4,0.5,0.6,0.7,0.8],"format":".1f","title":"Log(1/R)","titlePadding":14}},"color":{"field":"s","type":"nominal","legend":null,"scale":{"domain":["a","A","b","B","c","C","d","D","e","E","f","F","g","G","h","H","i","I","j","J","k","K","l","m","n","o","p","q"],"range":["#0f8a8a","#1a9a50","#2030d0","#20a0d0","#2f7f3f","#d020a0","#d020a0","#101010","#7a1a9c","#e01030","#101010","#0f8a8a","#1a9a50","#2030d0","#e01030","#8a8a20","#20a0d0","#7a1a9c","#8a8a20","#108a40","#108a40","#0f8a8a","#c02080","#a030b0","#30b0a0","#b8c060","#6080c0","#d04060"]}}}},
{"data":{"name":"refl"},"transform":[{"fold":["m","n","o","p","q"],"as":["s","v"]},{"filter":"isValid(datum.v)"}],"mark":{"type":"line","strokeWidth":1,"interpolate":"monotone"},"encoding":{"x":{"field":"w","type":"quantitative","axis":null},"y":{"field":"v","type":"quantitative","axis":null},"color":{"field":"s","type":"nominal","legend":null,"scale":{"domain":["a","A","b","B","c","C","d","D","e","E","f","F","g","G","h","H","i","I","j","J","k","K","l","m","n","o","p","q"],"range":["#0f8a8a","#1a9a50","#2030d0","#20a0d0","#2f7f3f","#d020a0","#d020a0","#101010","#7a1a9c","#e01030","#101010","#0f8a8a","#1a9a50","#2030d0","#e01030","#8a8a20","#20a0d0","#7a1a9c","#8a8a20","#108a40","#108a40","#0f8a8a","#c02080","#a030b0","#30b0a0","#b8c060","#6080c0","#d04060"]}}}},
{"data":{"values":[{"label":"a","x":70,"y":0.79}]},"mark":{"type":"text","font":"Liberation Sans","fontWeight":"bold","fontSize":16,"color":"black"},"encoding":{"text":{"field":"label"},"x":{"field":"x","type":"quantitative","axis":{"orient":"bottom","values":[750,1250,1750,2250],"labels":false,"domain":false,"title":null,"tickSize":3}},"y":{"field":"y","type":"quantitative","axis":{"orient":"left","values":[0.05,0.15,0.25,0.35,0.45,0.55,0.65,0.75],"labels":false,"domain":false,"title":null,"tickSize":3}}}}
]},
{"width":272,"height":214,"resolve":{"axis":{"x":"independent","y":"independent"}},"layer":[
{"data":{"name":"refl"},"transform":[{"fold":["a","A","b","B","c","C","d","D","e","E","f","F","g","G","h","H","i","I","j","J","k","K","l"],"as":["s","v"]}],"mark":{"type":"line","strokeWidth":2.8,"interpolate":"monotone","clip":true},"encoding":{"x":{"field":"w","type":"quantitative","scale":{"domain":[405,2555],"nice":false,"zero":false},"axis":{"values":[500,1000,1500,2000,2500],"format":"d","title":"Wavelengths","titlePadding":10}},"y":{"field":"v","type":"quantitative","scale":{"domain":[0,0.8],"nice":false},"axis":{"values":[0,0.1,0.2,0.3,0.4,0.5,0.6,0.7,0.8],"format":".1f","title":"Log(1/R)","titlePadding":13}},"color":{"field":"s","type":"nominal","legend":null,"scale":{"domain":["a","A","b","B","c","C","d","D","e","E","f","F","g","G","h","H","i","I","j","J","k","K","l","m","n","r"],"range":["#2a2ad8","#7a1a9c","#7a1a9c","#2030d0","#2030d0","#0f8a8a","#101010","#d01050","#0f8a8a","#2f7f3f","#2f7f3f","#101010","#e020a0","#2030d0","#20a0a0","#8a8a20","#d01040","#1a9a50","#8a8a20","#e01030","#1a9a50","#2030d0","#2f7f3f","#5090c0","#30b0a0","#70b040"]}}}},
{"data":{"name":"refl"},"transform":[{"fold":["m","n","r"],"as":["s","v"]},{"filter":"isValid(datum.v)"}],"mark":{"type":"line","strokeWidth":1,"interpolate":"monotone","clip":true},"encoding":{"x":{"field":"w","type":"quantitative","axis":null},"y":{"field":"v","type":"quantitative","axis":null},"color":{"field":"s","type":"nominal","legend":null,"scale":{"domain":["a","A","b","B","c","C","d","D","e","E","f","F","g","G","h","H","i","I","j","J","k","K","l","m","n","r"],"range":["#2a2ad8","#7a1a9c","#7a1a9c","#2030d0","#2030d0","#0f8a8a","#101010","#d01050","#0f8a8a","#2f7f3f","#2f7f3f","#101010","#e020a0","#2030d0","#20a0a0","#8a8a20","#d01040","#1a9a50","#8a8a20","#e01030","#1a9a50","#2030d0","#2f7f3f","#5090c0","#30b0a0","#70b040"]}}}},
{"data":{"values":[{"label":"b","x":49,"y":0.79}]},"mark":{"type":"text","font":"Liberation Sans","fontWeight":"bold","fontSize":16,"color":"black"},"encoding":{"text":{"field":"label"},"x":{"field":"x","type":"quantitative","axis":{"orient":"bottom","values":[750,1250,1750,2250],"labels":false,"domain":false,"title":null,"tickSize":3}},"y":{"field":"y","type":"quantitative","axis":{"orient":"left","values":[0.05,0.15,0.25,0.35,0.45,0.55,0.65,0.75],"labels":false,"domain":false,"title":null,"tickSize":3}}}}
]}
]}
]},
{"spacing":0,"resolve":{"scale":{"color":"independent"}},"hconcat":[
{"width":1,"height":1,"data":{"values":[]},"mark":"point"},
{"spacing":48,"resolve":{"scale":{"color":"independent"}},"hconcat":[
{"width":267,"height":214,"resolve":{"axis":{"x":"independent","y":"independent"}},"layer":[
{"data":{"name":"deriv"},"transform":[{"fold":["a","b","c","d","e","f","g","h","i","j","k","l","m","n","o","p"],"as":["s","v"]}],"mark":{"type":"line","strokeWidth":1.3,"interpolate":"monotone","clip":true},"encoding":{"x":{"field":"w","type":"quantitative","scale":{"domain":[405,2555],"nice":false,"zero":false},"axis":{"values":[500,1000,1500,2000,2500],"format":"d","title":"Wavelengths","titlePadding":10}},"y":{"field":"v","type":"quantitative","scale":{"domain":[-0.6,0.7],"nice":false},"axis":{"values":[-0.6,-0.4,-0.2,0,0.2,0.4,0.6],"labelExpr":"replace(format(datum.value,'.1f'),'−','-')","title":"1st Derivative","titlePadding":15}},"color":{"field":"s","type":"nominal","legend":null,"scale":{"domain":["a","b","c","d","e","f","g","h","i","j","k","l","m","n","o","p"],"range":["#b5a020","#d020d0","#d01030","#20a050","#2030d0","#8b1a4a","#6a8ab0","#30c0c0","#1a2a6a","#b08030","#000000","#e04090","#7030c0","#107050","#3090e0","#808020"]}}}},
{"data":{"name":"spikes"},"mark":{"type":"line","strokeWidth":1.1,"interpolate":"monotone","clip":true},"encoding":{"x":{"field":"w","type":"quantitative","axis":null},"y":{"field":"v","type":"quantitative","axis":null},"color":{"field":"s","type":"nominal","legend":null,"scale":{"domain":["a","b","c","d","e","f","g","h","i","j","k","l","m","n","o","p"],"range":["#b5a020","#d020d0","#d01030","#20a050","#2030d0","#8b1a4a","#6a8ab0","#30c0c0","#1a2a6a","#b08030","#000000","#e04090","#7030c0","#107050","#3090e0","#808020"]}}}},
{"data":{"values":[{"label":"c","x":35,"y":0.627}]},"mark":{"type":"text","font":"Liberation Sans","fontWeight":"bold","fontSize":16,"color":"black"},"encoding":{"text":{"field":"label"},"x":{"field":"x","type":"quantitative","axis":{"orient":"bottom","values":[750,1250,1750,2250],"labels":false,"domain":false,"title":null,"tickSize":3}},"y":{"field":"y","type":"quantitative","axis":{"orient":"left","values":[-0.5,-0.3,-0.1,0.1,0.3,0.5,0.7],"labels":false,"domain":false,"title":null,"tickSize":3}}}}
]},
{"width":257,"height":214,"resolve":{"axis":{"x":"independent","y":"independent"}},"layer":[
{"data":{"name":"scores"},"transform":[{"fold":["a","b","c2","d","e","f","g","h","i","j","k","l","m","n","o","p","q","r","s","t","u","v","w","x"],"as":["s","v"]},{"filter":"isValid(datum.v)"}],"mark":{"type":"point","shape":"square","size":36,"filled":false,"strokeWidth":1.2,"opacity":1},"encoding":{"x":{"field":"c","type":"quantitative","scale":{"domain":[-1.3,65.2],"nice":false,"zero":false},"axis":{"values":[0,10,20,30,40,50,60],"format":"d","title":"Components","titlePadding":10}},"y":{"field":"v","type":"quantitative","scale":{"domain":[-0.6,0.5],"nice":false},"axis":{"values":[-0.6,-0.4,-0.2,0,0.2,0.4],"labelExpr":"replace(format(datum.value,'.1f'),'−','-')","title":"Values","titlePadding":14}},"color":{"field":"s","type":"nominal","legend":null,"scale":{"domain":["a","b","c2","d","e","f","g","h","i","j","k","l","m","n","o","p","q","r","s","t","u","v","w","x"],"range":["#101010","#e04040","#1e9a4e","#1a1ae0","#20a0a0","#e020c0","#b0b030","#000080","#e01030","#8b1a4a","#5a6a1e","#0f8f7f","#7a80c0","#e070b0","#808080","#2a60e0","#2f7f3f","#c09060","#50c8d0","#304020","#a040e0","#b05090","#6080d0","#7a1a9c"]}}}},
{"data":{"name":"scoresMore"},"transform":[{"filter":"isValid(datum.l)"}],"mark":{"type":"point","shape":"square","size":36,"filled":false,"strokeWidth":1.2,"opacity":1,"color":"#0f8f7f"},"encoding":{"x":{"field":"c","type":"quantitative","axis":null},"y":{"field":"l","type":"quantitative","axis":null}}},
{"data":{"name":"scoresMore"},"mark":{"type":"point","shape":"square","size":36,"filled":false,"strokeWidth":1.4,"opacity":1,"color":"#7a1a9c"},"encoding":{"x":{"field":"c","type":"quantitative","axis":null},"y":{"field":"x","type":"quantitative","axis":null}}},
{"data":{"values":[{"x0":0,"x1":63,"y":0}]},"mark":{"type":"rule","color":"#111111","strokeWidth":1.5,"strokeDash":[6,4]},"encoding":{"x":{"field":"x0","type":"quantitative","axis":null},"x2":{"field":"x1"},"y":{"field":"y","type":"quantitative","axis":null}}},
{"data":{"values":[{"label":"d","x":-13.5,"y":0.418}]},"mark":{"type":"text","font":"Liberation Sans","fontWeight":"bold","fontSize":16,"color":"black"},"encoding":{"text":{"field":"label"},"x":{"field":"x","type":"quantitative","axis":{"orient":"bottom","values":[5,15,25,35,45,55,65],"labels":false,"domain":false,"title":null,"tickSize":3}},"y":{"field":"y","type":"quantitative","axis":{"orient":"left","values":[-0.5,-0.3,-0.1,0.1,0.3,0.5],"labels":false,"domain":false,"title":null,"tickSize":3}}}}
]}
]}
]}
]},
{"spacing":0,"resolve":{"scale":{"color":"independent"}},"hconcat":[
{"width":1,"height":1,"data":{"values":[]},"mark":"point"},
{"spacing":48,"resolve":{"scale":{"color":"independent"}},"hconcat":[
{"width":267,"height":214,"resolve":{"axis":{"x":"independent","y":"independent"}},"layer":[
{"data":{"name":"deriv"},"transform":[{"fold":["a","b","c","d","e","f","g","h","i","j"],"as":["s","v"]},{"filter":"datum.s!='j'||(datum.w<900||(datum.w>1100&&datum.w<2400))"}],"mark":{"type":"line","strokeWidth":1,"interpolate":"monotone","clip":true},"encoding":{"x":{"field":"w","type":"quantitative","scale":{"domain":[405,2555],"nice":false,"zero":false},"axis":{"values":[500,1000,1500,2000,2500],"format":"d","title":"Wavelengths","titlePadding":8}},"y":{"field":"v","type":"quantitative","scale":{"domain":[-0.6,0.7],"nice":false},"axis":{"values":[-0.6,-0.4,-0.2,0,0.2,0.4,0.6],"labelExpr":"replace(format(datum.value,'.1f'),'−','-')","title":"1st Derivative","titlePadding":15}},"color":{"field":"s","type":"nominal","legend":null,"scale":{"domain":["a","b","c","d","e","f","g","h","i","j"],"range":["#b5a020","#d020d0","#d01030","#20a050","#2030d0","#8b1a4a","#6a8ab0","#30c0c0","#1a2a6a","#b08030"]}}}},
{"data":{"values":[{"label":"e","x":35,"y":0.597}]},"mark":{"type":"text","font":"Liberation Sans","fontWeight":"bold","fontSize":16,"color":"black"},"encoding":{"text":{"field":"label"},"x":{"field":"x","type":"quantitative","axis":{"orient":"bottom","values":[750,1250,1750,2250],"labels":false,"domain":false,"title":null,"tickSize":3}},"y":{"field":"y","type":"quantitative","axis":{"orient":"left","values":[-0.5,-0.3,-0.1,0.1,0.3,0.5,0.7],"labels":false,"domain":false,"title":null,"tickSize":3}}}}
]},
{"width":257,"height":214,"resolve":{"axis":{"x":"independent","y":"independent"}},"layer":[
{"data":{"name":"scores"},"transform":[{"fold":["a","b","c2","d","e","f","g","h","i","j","k","l","m","n","o","p","q","r","s","t","u","v","w","x"],"as":["s","v"]},{"filter":"isValid(datum.v)"}],"mark":{"type":"point","shape":"square","size":36,"filled":false,"strokeWidth":1.2,"opacity":1},"encoding":{"x":{"field":"c","type":"quantitative","scale":{"domain":[-0.93,19.1],"nice":false,"zero":false},"axis":{"values":[0,3,6,9,12,15,18],"format":"d","title":"Components","titlePadding":8}},"y":{"field":"v","type":"quantitative","scale":{"domain":[-0.6,0.5],"nice":false},"axis":{"values":[-0.6,-0.4,-0.2,0,0.2,0.4],"labelExpr":"replace(format(datum.value,'.1f'),'−','-')","title":"Values","titlePadding":14}},"color":{"field":"s","type":"nominal","legend":null,"scale":{"domain":["a","b","c2","d","e","f","g","h","i","j","k","l","m","n","o","p","q","r","s","t","u","v","w","x"],"range":["#101010","#e04040","#1e9a4e","#1a1ae0","#20a0a0","#e020c0","#b0b030","#000080","#e01030","#8b1a4a","#5a6a1e","#0f8f7f","#7a80c0","#e070b0","#808080","#2a60e0","#2f7f3f","#c09060","#50c8d0","#304020","#a040e0","#b05090","#6080d0","#7a1a9c"]}}}},
{"data":{"values":[{"x0":-0.9,"x1":18.2,"y":0}]},"mark":{"type":"rule","color":"#111111","strokeWidth":1.5,"strokeDash":[6,4]},"encoding":{"x":{"field":"x0","type":"quantitative","axis":null},"x2":{"field":"x1"},"y":{"field":"y","type":"quantitative","axis":null}}},
{"data":{"values":[{"label":"f","x":-4.36,"y":0.418}]},"mark":{"type":"text","font":"Liberation Sans","fontWeight":"bold","fontSize":16,"color":"black"},"encoding":{"text":{"field":"label"},"x":{"field":"x","type":"quantitative","axis":{"orient":"bottom","values":[1.5,4.5,7.5,10.5,13.5,16.5],"labels":false,"domain":false,"title":null,"tickSize":3}},"y":{"field":"y","type":"quantitative","axis":{"orient":"left","values":[-0.5,-0.3,-0.1,0.1,0.3,0.5],"labels":false,"domain":false,"title":null,"tickSize":3}}}}
]}
]}
]}
]}
